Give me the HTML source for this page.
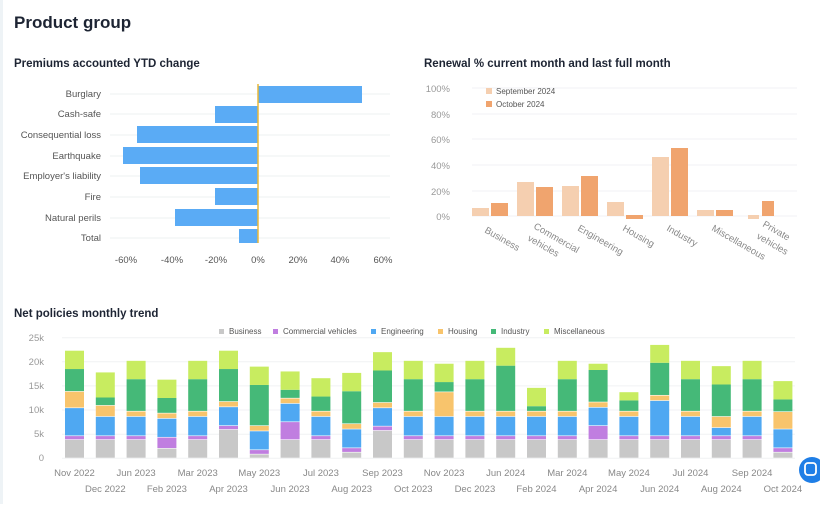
<!DOCTYPE html>
<html><head><style>
body{margin:0;width:820px;height:504px;background:#fff;font-family:"Liberation Sans",sans-serif;overflow:hidden;}
</style></head><body>
<svg width="820" height="504" xmlns="http://www.w3.org/2000/svg" font-family="Liberation Sans, sans-serif">
<rect x="0" y="0" width="820" height="504" fill="#fff"/>
<rect x="0" y="0" width="3" height="504" fill="#eef3f6"/>
<text x="14" y="28" font-size="17" fill="#1d2433" font-weight="600">Product group</text>
<text x="14" y="67" font-size="11.5" font-weight="bold" fill="#1d2433">Premiums accounted YTD change</text>
<text x="424" y="67" font-size="11.5" font-weight="bold" fill="#1d2433">Renewal % current month and last full month</text>
<text x="14" y="317" font-size="11.5" font-weight="bold" fill="#1d2433">Net policies monthly trend</text>
<g id="hbar" font-size="9.5" fill="#555">
<g stroke="#eef0f2">
<line x1="110" y1="94" x2="390" y2="94"/><line x1="110" y1="114" x2="390" y2="114"/><line x1="110" y1="135" x2="390" y2="135"/><line x1="110" y1="156" x2="390" y2="156"/><line x1="110" y1="176" x2="390" y2="176"/><line x1="110" y1="197" x2="390" y2="197"/><line x1="110" y1="218" x2="390" y2="218"/><line x1="110" y1="238" x2="390" y2="238"/>
</g>
<g fill="#5aabf5">
<rect x="258" y="86" width="104" height="17"/>
<rect x="215" y="106" width="43" height="17"/>
<rect x="137" y="126" width="121" height="17"/>
<rect x="123" y="147" width="135" height="17"/>
<rect x="140" y="167" width="118" height="17"/>
<rect x="215" y="188" width="43" height="17"/>
<rect x="175" y="209" width="83" height="17"/>
<rect x="239" y="229" width="19" height="14"/>
</g>
<line x1="258" y1="84" x2="258" y2="243" stroke="#e8b83a" stroke-width="1.5"/>
<g text-anchor="end">
<text x="101" y="97">Burglary</text><text x="101" y="117">Cash-safe</text><text x="101" y="138">Consequential loss</text><text x="101" y="159">Earthquake</text><text x="101" y="179">Employer's liability</text><text x="101" y="200">Fire</text><text x="101" y="221">Natural perils</text><text x="101" y="241">Total</text>
</g>
<g text-anchor="middle">
<text x="126" y="263">-60%</text><text x="172" y="263">-40%</text><text x="216" y="263">-20%</text><text x="258" y="263">0%</text><text x="298" y="263">20%</text><text x="340" y="263">40%</text><text x="383" y="263">60%</text>
</g>
</g>
<g id="ren" font-size="9.5" fill="#999">
<g stroke="#f0f2f4">
<line x1="472" y1="88" x2="797" y2="88"/><line x1="472" y1="114" x2="797" y2="114"/><line x1="472" y1="139" x2="797" y2="139"/><line x1="472" y1="165" x2="797" y2="165"/><line x1="472" y1="191" x2="797" y2="191"/><line x1="472" y1="216" x2="797" y2="216"/>
</g>
<g text-anchor="end"><text x="450" y="92">100%</text><text x="450" y="118">80%</text><text x="450" y="143">60%</text><text x="450" y="169">40%</text><text x="450" y="195">20%</text><text x="450" y="220">0%</text></g>
<rect x="486" y="88" width="6" height="6" fill="#f5cfb0"/><text x="496" y="94" font-size="8" fill="#555">September 2024</text>
<rect x="486" y="101" width="6" height="6" fill="#f0a46e"/><text x="496" y="107" font-size="8" fill="#555">October 2024</text>
<g fill="#f5cfb0">
<rect x="472" y="208" width="17" height="8"/><rect x="517" y="182" width="17" height="34"/><rect x="562" y="186" width="17" height="30"/><rect x="607" y="202" width="17" height="14"/><rect x="652" y="157" width="17" height="59"/><rect x="697" y="210" width="17" height="6"/><rect x="748" y="215" width="11" height="4"/>
</g>
<g fill="#f0a46e">
<rect x="491" y="203" width="17" height="13"/><rect x="536" y="187" width="17" height="29"/><rect x="581" y="176" width="17" height="40"/><rect x="626" y="215" width="17" height="4"/><rect x="671" y="148" width="17" height="68"/><rect x="716" y="210" width="17" height="6"/><rect x="762" y="201" width="12" height="15"/>
</g>
<g font-size="9.5" fill="#888">
<text transform="translate(484,232) rotate(30)">Business</text>
<text transform="translate(533,228) rotate(30)">Commercial</text>
<text transform="translate(527,240) rotate(30)">vehicles</text>
<text transform="translate(577,230) rotate(30)">Engineering</text>
<text transform="translate(622,230) rotate(30)">Housing</text>
<text transform="translate(666,230) rotate(30)">Industry</text>
<text transform="translate(711,230) rotate(30)">Miscellaneous</text>
<text transform="translate(762,226) rotate(30)">Private</text>
<text transform="translate(756,238) rotate(30)">vehicles</text>
</g>
</g>
<g id="net" font-size="9.5" fill="#999">
<g stroke="#f0f2f4">
<line x1="62" y1="337.7" x2="795" y2="337.7"/><line x1="62" y1="361.8" x2="795" y2="361.8"/><line x1="62" y1="385.9" x2="795" y2="385.9"/><line x1="62" y1="410" x2="795" y2="410"/><line x1="62" y1="434.2" x2="795" y2="434.2"/><line x1="62" y1="458.3" x2="795" y2="458.3"/>
</g>
<g text-anchor="end"><text x="44" y="341">25k</text><text x="44" y="365">20k</text><text x="44" y="389">15k</text><text x="44" y="413">10k</text><text x="44" y="437">5k</text><text x="44" y="461">0</text></g>
<g font-size="8" fill="#555">
<rect x="219" y="329" width="5" height="5" fill="#c8c8c8"/><text x="229" y="334">Business</text>
<rect x="273" y="329" width="5" height="5" fill="#c07ee0"/><text x="283" y="334">Commercial vehicles</text>
<rect x="371" y="329" width="5" height="5" fill="#4fa8f2"/><text x="381" y="334">Engineering</text>
<rect x="438" y="329" width="5" height="5" fill="#f8c46c"/><text x="448" y="334">Housing</text>
<rect x="491" y="329" width="5" height="5" fill="#45b978"/><text x="501" y="334">Industry</text>
<rect x="544" y="329" width="5" height="5" fill="#c8ec60"/><text x="554" y="334">Miscellaneous</text>
</g>
<g id="bars"></g>
<g id="xl" font-size="9.5" fill="#888" text-anchor="middle"></g>
</g>
<circle cx="812" cy="470" r="13" fill="#1f7ee6"/>
<rect x="805" y="463" width="11" height="12" rx="3" fill="none" stroke="#fff" stroke-width="1.8"/>
</svg>
<script>
var d=[[3.8,4.6,10.4,13.8,18.5,22.3],[3.8,4.6,8.6,10.9,12.6,17.8],[3.8,4.6,8.6,9.7,16.4,20.2],[2.0,4.3,8.2,9.3,12.5,16.3],[3.8,4.6,8.6,9.7,16.4,20.2],[5.9,6.7,10.6,11.7,18.5,22.3],[0.8,1.7,5.6,6.7,15.2,19.0],[3.8,7.5,11.3,12.4,14.2,18.0],[3.8,4.6,8.6,9.7,12.8,16.6],[1.2,2.1,6.0,7.1,13.9,17.7],[5.7,6.6,10.4,11.5,18.2,22.0],[3.8,4.6,8.6,9.7,16.4,20.2],[3.8,4.6,8.6,13.7,15.8,19.6],[3.8,4.6,8.6,9.7,16.4,20.2],[3.8,4.6,8.6,9.7,19.2,22.9],[3.8,4.6,8.6,9.7,10.8,14.6],[3.8,4.6,8.6,9.7,16.4,20.2],[3.8,6.7,10.5,11.6,18.3,19.6],[3.8,4.6,8.6,9.7,12.0,13.7],[3.8,4.6,11.9,13.0,19.8,23.5],[3.8,4.6,8.6,9.7,16.4,20.2],[3.8,4.6,6.3,8.6,15.3,19.1],[3.8,4.6,8.6,9.7,16.4,20.2],[1.2,2.1,6.0,9.6,12.2,16.0]];
var labs=["Nov 2022","Dec 2022","Jun 2023","Feb 2023","Mar 2023","Apr 2023","May 2023","Jun 2023","Jul 2023","Aug 2023","Sep 2023","Oct 2023","Nov 2023","Dec 2023","Jun 2024","Feb 2024","Mar 2024","Apr 2024","May 2024","Jun 2024","Jul 2024","Aug 2024","Sep 2024","Oct 2024"];
var cols=["#c8c8c8","#c07ee0","#4fa8f2","#f8c46c","#45b978","#c8ec60"];
var ns="http://www.w3.org/2000/svg",g=document.getElementById("bars"),xl=document.getElementById("xl");
var y0=458.3,k=4.825;
d.forEach(function(r,i){var cx=74.5+i*30.8,p=0;r.forEach(function(v,j){var e=document.createElementNS(ns,"rect");e.setAttribute("x",cx-9.5);e.setAttribute("width",19);e.setAttribute("y",y0-v*k);e.setAttribute("height",Math.max(0,(v-p)*k-(j<5?0.6:0)));e.setAttribute("fill",cols[j]);g.appendChild(e);p=v;});
var t=document.createElementNS(ns,"text");t.setAttribute("x",cx);t.setAttribute("y",i%2?492:476);t.textContent=labs[i];xl.appendChild(t);});
</script>
</body></html>
